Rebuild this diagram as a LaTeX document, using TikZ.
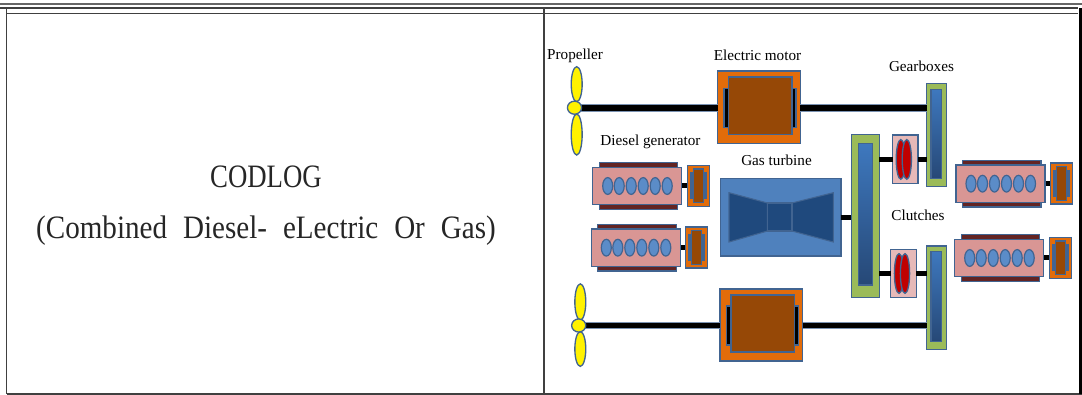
\documentclass[tikz,border=0pt]{standalone}
\usepackage{fontspec}
\setmainfont{Liberation Serif}
\newfontfamily\titlefont[FakeStretch=0.82]{Liberation Serif}
\newfontfamily\cellfont[FakeStretch=0.89,WordSpace=2.2]{Liberation Serif}
\usetikzlibrary{shapes.geometric}

\definecolor{edgeblue}{RGB}{65,100,145}
\definecolor{motororange}{RGB}{226,108,10}
\definecolor{motorbrown}{RGB}{150,72,6}
\definecolor{gearlime}{RGB}{155,187,89}
\definecolor{gearblue}{RGB}{62,120,190}
\definecolor{geardark}{RGB}{38,72,118}
\definecolor{enginepink}{RGB}{217,150,148}
\definecolor{enginebar}{RGB}{99,36,35}
\definecolor{clutchpink}{RGB}{230,185,184}
\definecolor{clutchred}{RGB}{192,0,0}
\definecolor{turbineblue}{RGB}{79,129,189}
\definecolor{turbinedark}{RGB}{31,73,125}

\tikzset{
    wh/.style 2 args={minimum width=#1*0.75pt, minimum height=#2*0.75pt},
    part/.style={draw=edgeblue, line width=1pt, inner sep=0pt, outer sep=0pt, rectangle},
    caption/.style={font=\fontsize{11.4}{13}\selectfont, inner sep=0pt},
    celltext/.style={text=black!85, inner sep=0pt},
    shaft/.style={draw=edgeblue!70, line width=5.8pt, line cap=butt},
    shaftcore/.style={draw=black, line width=4.4pt, line cap=butt},
    stub/.style={draw=black, line width=3.8pt, line cap=butt},
    tablerule/.style={draw=black!75, line width=0.9pt},
    blade/.style={ellipse, draw=edgeblue, fill=yellow, line width=1pt, inner sep=0pt},
    cyl/.style={draw=edgeblue, fill=gearblue!85!white, line width=0.9pt},
    % gearbox casing with its shaded core
    gearcase/.style={part, fill=gearlime},
    gearcore/.style={part, top color=gearblue, bottom color=geardark},
    % one diesel set, origin at the upper left of the engine block
    pics/dieselset/.style={code={
        \fill[enginebar, draw=edgeblue, line width=0.8pt] (6.5,-4.5) rectangle (85,0);
        \fill[enginebar, draw=edgeblue, line width=0.8pt] (6.5,37.5) rectangle (85,42);
        \draw[stub] (89,18.5) -- (95,18.5);
        \fill[enginepink, draw=edgeblue, line width=1pt] (0,0) rectangle (89,37.5);
        \foreach \cx in {15,26.5,38.5,50.5,62.5,74.5} {
            \draw[cyl] (\cx,18.7) ellipse (5 and 8.4);
        }
        \fill[motororange, draw=edgeblue, line width=1pt] (94.5,-2) rectangle (116.5,39);
        \fill[edgeblue] (97,5) rectangle (114,32);
        \fill[motorbrown, draw=edgeblue, line width=1pt] (100.5,1.7) rectangle (110.5,35.4);
    }},
}

\begin{document}
\begin{tikzpicture}[x=0.75pt, y=-0.75pt]

\useasboundingbox (0,0) rectangle (1082,395);

% === Table rules ===
\fill[white] (0,0) rectangle (1082,395);
\draw[draw=black!60, line width=1.4pt] (0,4) -- (1082,4);
\draw[tablerule] (0,8) -- (1078,8);
\draw[tablerule] (6.5,13.5) -- (1078,13.5);
\draw[tablerule] (6.5,8) -- (6.5,394);
\draw[tablerule] (544,8) -- (544,394);
\draw[tablerule] (6.5,394) -- (1082,394);
\fill[black] (1078.5,8) rectangle (1082,394);

% === Left cell ===
\node[celltext, font=\titlefont\fontsize{24.5}{28}\selectfont] (title) at (266,177) {CODLOG};
\node[celltext, font=\cellfont\fontsize{24.5}{28}\selectfont] (subtitle) at (266,231) {(Combined Diesel- eLectric Or Gas)};

% === Gearboxes ===
\node[gearcase, wh={19.6}{102.6}] (gearA) at (936.5,135) {};
\node[gearcore, wh={10.7}{89.4}] (gearAcore) at (936.4,134) {};
\node[gearcase, wh={19.6}{103.3}] (gearB) at (936.5,297.7) {};
\node[gearcore, wh={10.7}{90}] (gearBcore) at (936.4,296.7) {};
\node[gearcase, wh={28}{163}] (gearC) at (865.3,216.2) {};
\node[gearcore, wh={14.4}{141.7}] (gearCcore) at (865.5,214.2) {};

% === Electric motors ===
\foreach \name/\cx/\cy in {motorA/759/107.2, motorB/761.3/325} {
    \node[part, fill=motororange, wh={82.6}{72.2}] (\name) at (\cx,\cy) {};
    \fill[black, draw=edgeblue, line width=0.8pt] ({\cx-35},{\cy-19}) rectangle ({\cx-30},{\cy+20});
    \fill[black, draw=edgeblue, line width=0.8pt] ({\cx+32},{\cy-19}) rectangle ({\cx+37},{\cy+20});
    \node[part, fill=motorbrown, wh={63.3}{57.3}] (\name core) at ({\cx+1.3},{\cy-1.5}) {};
}

% === Propellers ===
\node[blade, minimum width=8.2pt, minimum height=26.2pt] (bladeAup) at (576.7,84.2) {};
\node[blade, minimum width=8.2pt, minimum height=30.8pt] (bladeAdown) at (576.7,134.5) {};
\node[blade, minimum width=8.2pt, minimum height=27.2pt] (bladeBup) at (580.3,302) {};
\node[blade, minimum width=8.2pt, minimum height=26pt] (bladeBdown) at (580.3,349) {};
\coordinate (hubA) at (574.5,107.7);
\coordinate (hubB) at (578.7,325.5);

% === Gas turbine ===
\node[part, fill=turbineblue, wh={120.7}{77.7}] (turbine) at (780.6,217.2) {};
\fill[turbinedark, draw=edgeblue, line width=0.8pt]
    (729,192.7) -- (767.5,203) -- (767.5,231) -- (729,242) -- cycle;
\fill[turbinedark, draw=edgeblue, line width=0.8pt]
    (833.3,192.7) -- (792,203) -- (792,231) -- (833.3,242) -- cycle;
\fill[turbinedark, draw=edgeblue, line width=0.8pt] (767.5,203) rectangle (792,231);

% === Clutches ===
\foreach \name/\cx/\cy in {clutchA/905.3/159.4, clutchB/903.5/273.5} {
    \node[part, fill=clutchpink, wh={25.4}{48.6}] (\name) at (\cx,\cy) {};
    \draw[fill=clutchred, draw=edgeblue, line width=1pt] ({\cx-4.5},\cy) ellipse (4.6 and 19.8);
    \draw[fill=clutchred, draw=edgeblue, line width=1pt] ({\cx+1.5},\cy) ellipse (4.6 and 19.8);
}

% === Shafts ===
\draw[shaft] (hubA) -- (motorA.west |- hubA);
\draw[shaft] (motorA.east |- hubA) -- (gearA.west |- hubA);
\draw[shaft] (hubB) -- (motorB.west |- hubB);
\draw[shaft] (motorB.east |- hubB) -- (gearB.west |- hubB);
\draw[shaftcore] (hubA) -- (motorA.west |- hubA);
\draw[shaftcore] (motorA.east |- hubA) -- (gearA.west |- hubA);
\draw[shaftcore] (hubB) -- (motorB.west |- hubB);
\draw[shaftcore] (motorB.east |- hubB) -- (gearB.west |- hubB);
\node[blade, minimum width=10.6pt, minimum height=9.8pt] (hubAtop) at (hubA) {};
\node[blade, minimum width=10.6pt, minimum height=9.8pt] (hubBtop) at (hubB) {};
\draw[stub] (turbine.east) -- (gearC.west |- turbine.east);
\draw[stub] (gearC.east |- clutchA) -- (clutchA.west);
\draw[stub] (clutchA.east) -- (gearA.west |- clutchA);
\draw[stub] (gearC.east |- clutchB) -- (clutchB.west);
\draw[stub] (clutchB.east) -- (gearB.west |- clutchB);

% === Diesel sets ===
\pic at (592.7,167.3) {dieselset};
\pic at (591.3,229) {dieselset};
\pic at (956,165) {dieselset};
\pic at (954.7,239.3) {dieselset};

% === Labels ===
\node[caption] (propeller) at (575,56) {Propeller};
\node[caption] (motorlabel) at (757.5,55) {Electric motor};
\node[caption] (gearlabel) at (921.5,66) {Gearboxes};
\node[caption] (diesellabel) at (650.5,142) {Diesel generator};
\node[caption] (turbinelabel) at (776.5,160) {Gas turbine};
\node[caption] (clutchlabel) at (918,215) {Clutches};

\end{tikzpicture}
\end{document}
